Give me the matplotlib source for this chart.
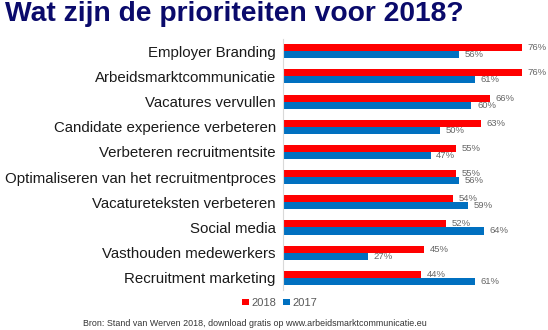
import matplotlib.pyplot as plt
import numpy as np

plt.rcParams['font.family'] = ['Liberation Sans', 'DejaVu Sans']

categories = ['Employer Branding', 'Arbeidsmarktcommunicatie', 'Vacatures vervullen',
              'Candidate experience verbeteren', 'Verbeteren recruitmentsite',
              'Optimaliseren van het recruitmentproces', 'Vacatureteksten verbeteren',
              'Social media', 'Vasthouden medewerkers', 'Recruitment marketing']
values_2018 = [76, 76, 66, 63, 55, 55, 54, 52, 45, 44]
values_2017 = [56, 61, 60, 50, 47, 56, 59, 64, 27, 61]

red = '#ff0000'
blue = '#0070c0'

fig = plt.figure(figsize=(5.48, 3.30), dpi=100)
ax = fig.add_axes([0.516, 0.12, 0.459, 0.763])

y = np.arange(len(categories))
h = 0.28
ax.barh(y - h / 2, values_2018, height=h, color=red, label='2018')
ax.barh(y + h / 2, values_2017, height=h, color=blue, label='2017')

for yi, v in zip(y, values_2018):
    ax.text(v + 1.8, yi - h / 2, f'{v}%', va='center', ha='left', fontsize=6.8, color='#666666')
for yi, v in zip(y, values_2017):
    ax.text(v + 1.8, yi + h / 2, f'{v}%', va='center', ha='left', fontsize=6.8, color='#666666')

ax.set_xlim(0, 80)
ax.set_ylim(len(categories) - 0.5, -0.5)
ax.set_yticks(y)
ax.set_yticklabels(categories, fontsize=10.8, color='#1a1a1a')
ax.set_xticks([])
ax.tick_params(axis='y', length=0, pad=5)
for s in ['top', 'right', 'bottom']:
    ax.spines[s].set_visible(False)
ax.spines['left'].set_color('#d9d9d9')
ax.spines['left'].set_linewidth(0.8)

fig.text(0.009, 0.958, 'Wat zijn de prioriteiten voor 2018?', fontsize=20.3, fontweight='bold',
         color='#0a0a6b', va='center', ha='left')

fig.legend(loc='center', bbox_to_anchor=(0.511, 0.082), ncol=2, frameon=False, fontsize=8,
           handlelength=0.55, handleheight=0.55, handletextpad=0.3, columnspacing=0.6,
           labelcolor='#595959')

fig.text(0.466, 0.021, 'Bron: Stand van Werven 2018, download gratis op www.arbeidsmarktcommunicatie.eu',
         fontsize=6.4, color='#333333', ha='center', va='center')

fig.savefig('out.png', dpi=100)
